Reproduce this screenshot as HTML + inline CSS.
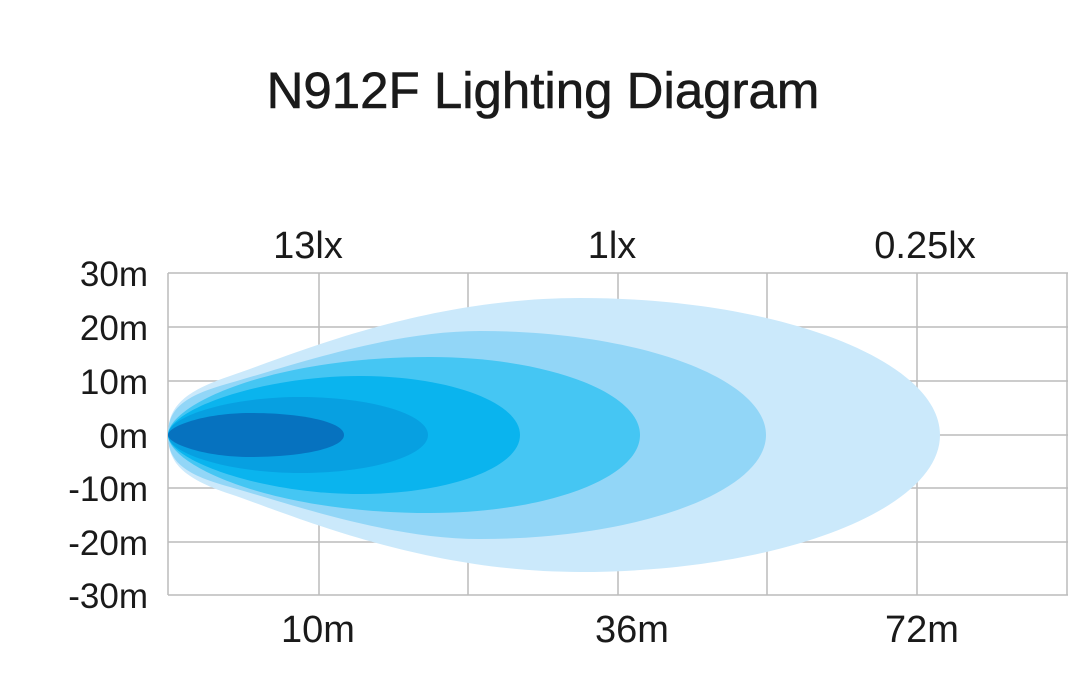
<!DOCTYPE html>
<html><head><meta charset="utf-8"><style>
html,body{margin:0;padding:0;background:#fff;}
svg{display:block;}
text{font-family:"Liberation Sans",sans-serif;fill:#1a1a1a;}
</style></head><body>
<svg width="1088" height="680" viewBox="0 0 1088 680">
<text x="543" y="108" font-size="51" text-anchor="middle" stroke="#1a1a1a" stroke-width="0.6">N912F Lighting Diagram</text>
<g stroke="#bcbcbc" stroke-width="1.5" fill="none">
<line x1="168" y1="273" x2="1068" y2="273"/><line x1="168" y1="327" x2="1068" y2="327"/>
<line x1="168" y1="381" x2="1068" y2="381"/><line x1="168" y1="435" x2="1068" y2="435"/>
<line x1="168" y1="488" x2="1068" y2="488"/><line x1="168" y1="542" x2="1068" y2="542"/>
<line x1="168" y1="595" x2="1068" y2="595"/>
<line x1="168" y1="273" x2="168" y2="595"/><line x1="319" y1="273" x2="319" y2="595"/>
<line x1="468" y1="273" x2="468" y2="595"/><line x1="618" y1="273" x2="618" y2="595"/>
<line x1="767" y1="273" x2="767" y2="595"/><line x1="917" y1="273" x2="917" y2="595"/>
<line x1="1067" y1="273" x2="1067" y2="595"/>
</g>
<path fill="#CBE9FB" d="M168,435 C168,408 182,392 230,376 C290,356 420,298 580,298 C778,298 940,360 940,435 C940,510 778,572 580,572 C420,572 290,514 230,494 C182,478 168,462 168,435Z"/>
<path fill="#92D6F7" d="M168,435 C168,410 182,396 230,383 C290,366 390,331 480,331 C637,331 766,378 766,435 C766,492 637,539 480,539 C390,539 290,504 230,487 C182,474 168,460 168,435Z"/>
<path fill="#45C6F3" d="M168,435 C168,405 270,357 430,357 C546,357 640,392 640,435 C640,478 546,513 430,513 C270,513 168,465 168,435Z"/>
<path fill="#0AB4EE" d="M168,435 C168,410 260,376 360,376 C448,376 520,402 520,435 C520,468 448,494 360,494 C260,494 168,460 168,435Z"/>
<path fill="#07A0E1" d="M168,435 C168,416 230,397 300,397 C370,397 428,414 428,435 C428,456 370,473 300,473 C230,473 168,454 168,435Z"/>
<path fill="#0672BF" d="M168,435 C168,426 205,413 250,413 C302,413 344,422 344,435 C344,448 302,457 250,457 C205,457 168,444 168,435Z"/>
<g font-size="38" text-anchor="middle">
<text x="308" y="258">13lx</text><text x="612" y="258">1lx</text><text x="925" y="258">0.25lx</text>
<text x="318" y="642">10m</text><text x="632" y="642">36m</text><text x="922" y="642">72m</text>
</g>
<g font-size="35" text-anchor="end">
<text x="148" y="286">30m</text><text x="148" y="340">20m</text><text x="148" y="394">10m</text>
<text x="148" y="448">0m</text><text x="148" y="501">-10m</text><text x="148" y="555">-20m</text>
<text x="148" y="608">-30m</text>
</g>
</svg>
</body></html>
